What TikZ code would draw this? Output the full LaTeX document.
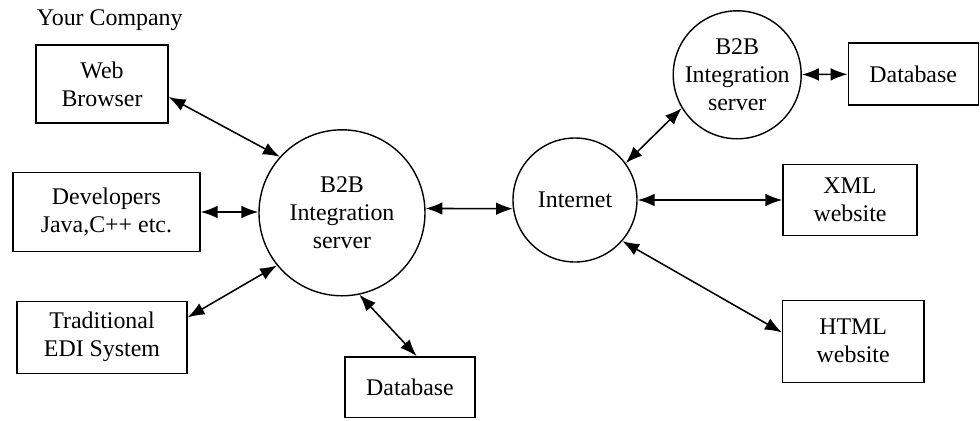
\documentclass[tikz,border=0pt]{standalone}
\usepackage{fontspec}
\setmainfont{Liberation Serif}
\usetikzlibrary{arrows.meta}

\begin{document}
\begin{tikzpicture}[font=\fontsize{17}{20}\selectfont]
\tikzset{
  box/.style={draw=black, line width=1pt, fill=white, align=center, inner sep=0pt},
  hub/.style={draw=black, circle, line width=1pt, fill=white, align=center, inner sep=0pt},
  link/.style={{Latex[length=12pt,width=9pt]}-{Latex[length=12pt,width=9pt]}, line width=1.1pt}
}
\useasboundingbox (0,0) rectangle (24.5,-10.5);
\node[anchor=west] (co) at (0.8,-0.5) {Your Company};
\node[box, minimum width=3.3cm, minimum height=1.95cm] (wb) at (2.55,-2.1) {Web\\Browser};
\node[box, minimum width=4.68cm, minimum height=1.98cm] (dev) at (2.66,-5.3) {Developers\\Java,C++ etc.};
\node[box, minimum width=4.25cm, minimum height=1.8cm] (edi) at (2.55,-8.43) {Traditional\\EDI System};
\node[hub, minimum size=4.15cm] (lb) at (8.55,-5.32) {B2B\\Integration\\server};
\node[box, minimum width=3.25cm, minimum height=1.52cm] (db1) at (10.25,-9.68) {Database};
\node[hub, minimum size=3.1cm] (inet) at (14.375,-5.0) {Internet};
\node[hub, minimum size=3.2cm] (rb) at (18.43,-1.87) {B2B\\Integration\\server};
\node[box, minimum width=3.25cm, minimum height=1.55cm] (db2) at (22.83,-1.85) {Database};
\node[box, minimum width=3.35cm, minimum height=1.78cm] (xml) at (21.25,-5.0) {XML\\website};
\node[box, minimum width=3.53cm, minimum height=2.05cm] (html) at (21.33,-8.53) {HTML\\website};
\draw[link] (wb.-11) -- (lb.138);
\draw[link] (dev.east) -- (dev.east -| lb.west);
\draw[link] (edi.13) -- (lb.219);
\draw[link] (lb.-78) -- (db1.78);
\draw[link] (lb.3) -- (inet.188);
\draw[link] (inet.36) -- (rb.211);
\draw[link] (rb) -- (db2);
\draw[link] (inet) -- (xml);
\draw[link] (inet.-41) -- (html.173);
\end{tikzpicture}
\end{document}
